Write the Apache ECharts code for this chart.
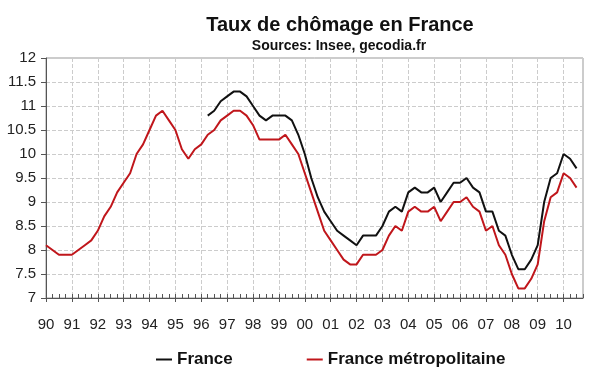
<!DOCTYPE html>
<html>
<head>
<meta charset="utf-8">
<script src="https://cdn.jsdelivr.net/npm/echarts@6/dist/echarts.min.js"></script>
<style>html,body{margin:0;padding:0;background:#fff}#c{width:600px;height:372px}</style>
</head>
<body>
<div id="c"></div>
<script>
const yearLabels = ['90','91','92','93','94','95','96','97','98','99','00','01','02','03','04','05','06','07','08','09','10'];
const quarters = [];
yearLabels.forEach(y => { for (let q = 1; q <= 4; q++) quarters.push(y + ' T' + q); });

const metro = [8.1,8.0,7.9,7.9,7.9,8.0,8.1,8.2,8.4,8.7,8.9,9.2,9.4,9.6,10.0,10.2,
  10.5,10.8,10.9,10.7,10.5,10.1,9.9,10.1,10.2,10.4,10.5,10.7,10.8,10.9,10.9,10.8,
  10.6,10.3,10.3,10.3,10.3,10.4,10.2,10.0,9.6,9.2,8.8,8.4,8.2,8.0,7.8,7.7,
  7.7,7.9,7.9,7.9,8.0,8.3,8.5,8.4,8.8,8.9,8.8,8.8,8.9,8.6,8.8,9.0,
  9.0,9.1,8.9,8.8,8.4,8.5,8.1,7.9,7.5,7.2,7.2,7.4,7.7,8.6,9.1,9.2,
  9.6,9.5,9.3,null];
const france = [null,null,null,null,null,null,null,null,null,null,null,null,null,null,null,null,
  null,null,null,null,null,null,null,null,null,10.8,10.9,11.1,11.2,11.3,11.3,11.2,
  11.0,10.8,10.7,10.8,10.8,10.8,10.7,10.4,10.0,9.5,9.1,8.8,8.6,8.4,8.3,8.2,
  8.1,8.3,8.3,8.3,8.5,8.8,8.9,8.8,9.2,9.3,9.2,9.2,9.3,9.0,9.2,9.4,
  9.4,9.5,9.3,9.2,8.8,8.8,8.4,8.3,7.9,7.6,7.6,7.8,8.1,9.0,9.5,9.6,
  10.0,9.9,9.7,null];

const font = 'Liberation Sans, Arial, sans-serif';
const chart = echarts.init(document.getElementById('c'), null, {renderer: 'canvas'});
chart.setOption({
  animation: false,
  backgroundColor: '#fff',
  title: [
    {text: 'Taux de chômage en France', left: 335, top: 10, textAlign: 'center',
     textStyle: {fontFamily: font, fontSize: 20, fontWeight: 'bold', color: '#111'}},
    {text: 'Sources: Insee, gecodia.fr', left: 334, top: 34, textAlign: 'center',
     textStyle: {fontFamily: font, fontSize: 14, fontWeight: 'bold', color: '#111'}}
  ],
  legend: {
    left: 151, top: 346, itemGap: 74, itemWidth: 16, itemHeight: 2, icon: 'rect',
    textStyle: {fontFamily: font, fontSize: 17, fontWeight: 'bold', color: '#111'},
    data: ['France', 'France métropolitaine']
  },
  grid: {left: 46, top: 58, right: 17, bottom: 74, show: true, borderColor: '#999', borderWidth: 1},
  xAxis: [
    {type: 'category', data: quarters, boundaryGap: false,
     axisLine: {lineStyle: {color: '#555'}},
     axisTick: {show: true, interval: 0, inside: true, length: 4, lineStyle: {color: '#555'}},
     axisLabel: {interval: 3, margin: 19, fontFamily: font, fontSize: 15, color: '#222',
       formatter: (v, i) => yearLabels[i / 4] || ''},
     splitLine: {show: true, interval: 3, lineStyle: {type: 'dashed', color: '#ccc'}}},
    {type: 'category', data: quarters, boundaryGap: false, position: 'bottom',
     axisLine: {show: false},
     axisTick: {show: true, interval: 3, length: 4, lineStyle: {color: '#555'}},
     axisLabel: {show: false}, splitLine: {show: false}}
  ],
  yAxis: {
    type: 'value', min: 7, max: 12, interval: 0.5,
    axisLine: {show: true, lineStyle: {color: '#555'}},
    axisTick: {show: true, length: 5, lineStyle: {color: '#555'}},
    axisLabel: {margin: 10, fontFamily: font, fontSize: 15, color: '#222'},
    splitLine: {show: true, lineStyle: {type: 'dashed', color: '#ccc'}}
  },
  series: [
    {name: 'France', type: 'line', data: france, showSymbol: false, symbol: 'none',
     lineStyle: {color: '#111', width: 2}, itemStyle: {color: '#111'}},
    {name: 'France métropolitaine', type: 'line', data: metro, showSymbol: false, symbol: 'none',
     lineStyle: {color: '#c0161b', width: 2}, itemStyle: {color: '#c0161b'}}
  ]
});
</script>
</body>
</html>
